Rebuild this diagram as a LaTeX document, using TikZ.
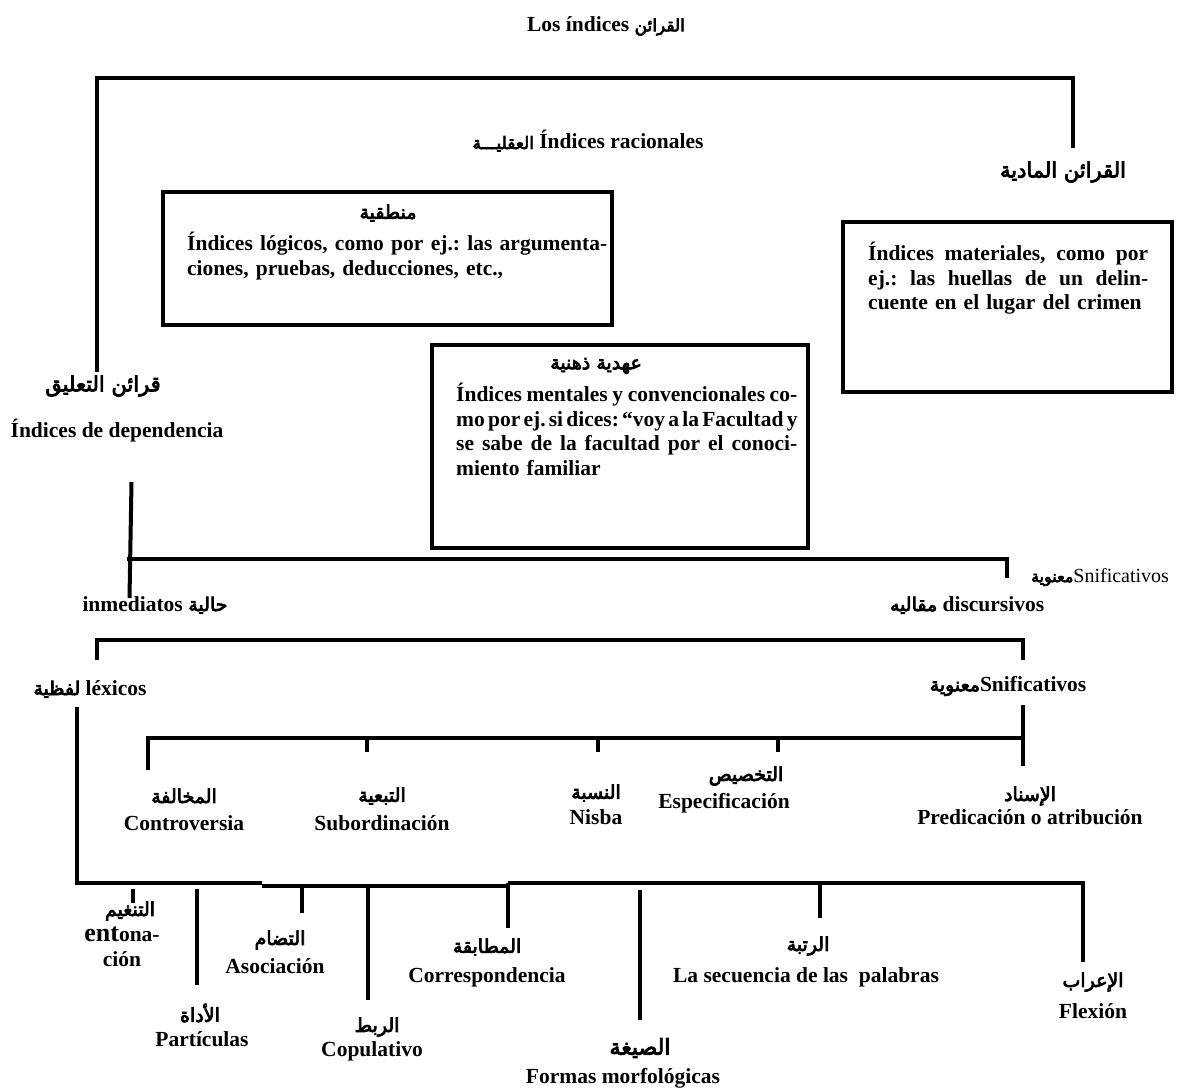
\documentclass[tikz,border=0pt]{standalone}
\usepackage{fontspec}
\setmainfont{Liberation Serif}
\newfontfamily\arfont[Script=Arabic,FakeBold=4]{DejaVu Sans}
\TeXXeTstate=1
\frenchspacing
\usetikzlibrary{positioning}
\newcommand{\ar}[2][19]{{\arfont\mdseries\fontsize{#1}{#1}\selectfont\beginR#2\endR}}
\newcommand{\jline}[1]{\leavevmode\hbox to \hsize{\spaceskip=0.15em plus 1fil\relax #1}}

\begin{document}
\begin{tikzpicture}[x=1pt, y=-1pt,
        every node/.style={font=\bfseries\fontsize{21.5}{24.5}\selectfont, inner sep=0pt},
        bar/.style={line width=4.5pt},
        box/.style={draw, line width=4.5pt},
        para/.style={anchor=north west, align=left}]
        \useasboundingbox (0,0) rectangle (1180,1091);

        \node (T) at (606,26) {Los índices \ar[17]{القرائن}};
        \node (R) at (588,141) {\ar[17]{العقليـــة} Índices racionales};
        \node (M) at (1063,172) {\ar[21]{القرائن المادية}};

        \node [box, minimum width=449pt, minimum height=133pt] (L) at (387.5,258.5) {};
        \node (Lh) at (388,213) {\ar{منطقية}};
        \node [para, text width=420pt] (Lb) at (187,232)
        {\jline{Índices lógicos, como por ej.: las argumenta-}\\ciones, pruebas, deducciones, etc.,};

        \node [box, minimum width=329pt, minimum height=170pt] (P) at (1007.5,307) {};
        \node [para, text width=280pt] (Pb) at (868,242)
        {\jline{Índices materiales, como por}\\\jline{ej.: las huellas de un delin-}\\cuente en el lugar del crimen};

        \node [box, minimum width=376pt, minimum height=203pt] (C) at (620,446.5) {};
        \node (Ch) at (596,366) {\ar{عهدية ذهنية}};
        \node [para, text width=341pt] (Cb) at (456,383)
        {\jline{Índices mentales y convencionales co-}\\\jline{mo por ej. si dices: “voy a la Facultad y}\\\jline{se sabe de la facultad por el conoci-}\\miento familiar};

        \node (D) at (103,386) {\ar[21]{قرائن التعليق}};
        \node (Dd) at (117,431) {Índices de dependencia};

        \node (I) at (155,605) {inmediatos \ar{حالية}};
        \node (Ds) at (967,605) {\ar{مقاليه} discursivos};
        \node [font=\mdseries\fontsize{20}{20}\selectfont] (Sm) at (1100,577) {\ar[16]{معنوية}Snificativos};
        \node (Lx) at (90,689) {\ar{لفظية}\ léxicos};
        \node (Sn) at (1008,686) {\ar{معنوية}Snificativos};

        \node (K1a) at (184,796) {\ar{المخالفة}};
        \node (K1) at (184,823) {Controversia};
        \node (K2a) at (382,796) {\ar{التبعية}};
        \node (K2) at (382,823) {Subordinación};
        \node (K3a) at (596,793) {\ar{النسبة}};
        \node (K3) at (596,817) {Nisba};
        \node (K4a) at (746,776) {\ar{التخصيص}};
        \node (K4) at (724,803) {Especificación};
        \node (K5a) at (1030,796) {\ar{الإسناد}};
        \node (K5) at (1030,817) {Predicación o atribución};

        \node (B1a) at (130,911) {\ar{التنغيم}};
        \node [align=center] (B1) at (122,947) {{\fontsize{26}{26}\selectfont ent}ona-\\ción};
        \node (B2a) at (200,1013) {\ar{الأداة}};
        \node (B2) at (202,1039) {Partículas};
        \node (B3a) at (280,940) {\ar{التضام}};
        \node (B3) at (275,966) {Asociación};
        \node (B4a) at (377,1027) {\ar{الربط}};
        \node (B4) at (372,1051) {Copulativo};
        \node (B5a) at (487,947) {\ar{المطابقة}};
        \node (B5) at (487,977) {Correspondencia};
        \node (B6a) at (640,1048) {\ar[22]{الصيغة}};
        \node (B6) at (623,1078) {Formas morfológicas};
        \node (B7a) at (808,946) {\ar{الرتبة}};
        \node (B7) at (806,977) {La secuencia de las\ \ palabras};
        \node (B8a) at (1093,982) {\ar{الإعراب}};
        \node (B8) at (1093,1011) {Flexión};

        \coordinate (t1) at (97,372);
        \coordinate (t2) at (97,78);
        \coordinate (t3) at (1073,78);
        \coordinate (t4) at (1073,148);
        \draw [bar] (t1)--(t2)--(t3)--(t4);

        \coordinate (d1) at (131.5,482);
        \coordinate (d2) at (129.5,598);
        \coordinate (h1) at (127,559);
        \coordinate (h2) at (1007,559);
        \coordinate (h3) at (1007,578);
        \draw [line width=4pt] (d1)--(d2);
        \draw [bar] (h1)--(h2)--(h3);

        \coordinate (s1) at (97,660);
        \coordinate (s2) at (97,640);
        \coordinate (s3) at (1023,640);
        \coordinate (s4) at (1023,660);
        \coordinate (r1) at (1023,705);
        \coordinate (r2) at (1023,766);
        \draw [bar] (s1)--(s2)--(s3)--(s4);
        \draw [bar] (r1)--(r2);

        \coordinate (m1) at (148,770);
        \coordinate (m2) at (148,738);
        \coordinate (m3) at (1023,738);
        \coordinate (n2) at (367,738);
        \coordinate (n2e) at (367,752);
        \coordinate (n3) at (598,738);
        \coordinate (n3e) at (598,752);
        \coordinate (n4) at (778,738);
        \coordinate (n4e) at (778,752);
        \draw [bar] (m1)--(m2)--(m3);
        \draw [bar] (n2)--(n2e);
        \draw [bar] (n3)--(n3e);
        \draw [bar] (n4)--(n4e);

        \coordinate (l0) at (77,707);
        \coordinate (l1) at (77,883);
        \coordinate (l2) at (262,883);
        \coordinate (l3) at (262,886);
        \coordinate (l4) at (508,886);
        \coordinate (l5) at (508,883);
        \coordinate (l6) at (1083,883);
        \coordinate (l7) at (1083,962);
        \draw [bar] (l0)--(l1)--(l2);
        \draw [bar] (l3)--(l4);
        \draw [bar] (l5)--(l6)--(l7);

        \coordinate (u1) at (133,889);
        \coordinate (u1e) at (133,903);
        \coordinate (u2) at (197,889);
        \coordinate (u2e) at (197,985);
        \coordinate (u3) at (302,886);
        \coordinate (u3e) at (302,913);
        \coordinate (u4) at (368,886);
        \coordinate (u4e) at (368,1000);
        \coordinate (u5) at (508,883);
        \coordinate (u5e) at (508,928);
        \coordinate (u6) at (640,890);
        \coordinate (u6e) at (640,1020);
        \coordinate (u7) at (820,883);
        \coordinate (u7e) at (820,918);
        \draw [bar] (u1)--(u1e);
        \draw [bar] (u2)--(u2e);
        \draw [bar] (u3)--(u3e);
        \draw [bar] (u4)--(u4e);
        \draw [bar] (u5)--(u5e);
        \draw [bar] (u6)--(u6e);
        \draw [bar] (u7)--(u7e);
\end{tikzpicture}
\end{document}
